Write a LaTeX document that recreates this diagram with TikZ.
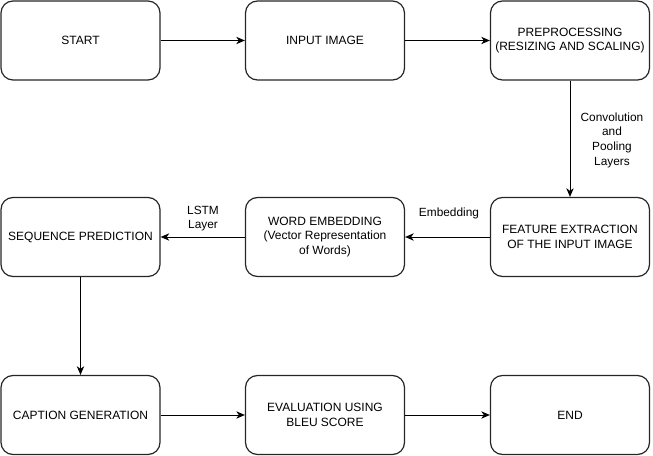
\documentclass[tikz,border=0pt]{standalone}
\usepackage{fontspec}
\setmainfont{Liberation Sans}
\usetikzlibrary{arrows.meta}
\begin{document}
\begin{tikzpicture}[x=0.75pt,y=-0.75pt,
  box/.style={draw=black!85,line width=0.9pt,rounded corners=9pt,minimum width=119.25pt,minimum height=59.25pt,align=center,font=\fontsize{9pt}{10.8pt}\selectfont,inner sep=0pt},
  lab/.style={align=center,font=\fontsize{8.9pt}{11pt}\selectfont,inner sep=0pt},
  arr/.style={draw=black,line width=0.75pt,-{Stealth[length=6.5pt,width=5.5pt,inset=2pt]}}]
\useasboundingbox (0,0) rectangle (653,456);
\node[box] (start) at (80.5,40.5) {START};
\node[box] (input) at (325,40.5) {INPUT IMAGE};
\node[box] (prep) at (570,40.5) {PREPROCESSING\\(RESIZING AND SCALING)};
\node[box] (feat) at (570,237) {FEATURE EXTRACTION\\OF THE INPUT IMAGE};
\node[box] (word) at (325,237) {WORD EMBEDDING\\(Vector Representation\\of Words)};
\node[box] (seq) at (80.5,237) {SEQUENCE PREDICTION};
\node[box] (cap) at (80.5,415) {CAPTION GENERATION};
\node[box] (eval) at (325,415) {EVALUATION USING\\BLEU SCORE};
\node[box] (end) at (570,415) {END};
\draw[arr] (start) -- (input);
\draw[arr] (input) -- (prep);
\draw[arr] (prep) -- (feat);
\draw[arr] (feat) -- (word);
\draw[arr] (word) -- (seq);
\draw[arr] (seq) -- (cap);
\draw[arr] (cap) -- (eval);
\draw[arr] (eval) -- (end);
\node[lab] (l1) at (612,140) {Convolution\\and\\Pooling\\Layers};
\node[lab] (l2) at (449,213) {Embedding};
\node[lab] (l3) at (203,218.5) {LSTM\\Layer};
\end{tikzpicture}
\end{document}
